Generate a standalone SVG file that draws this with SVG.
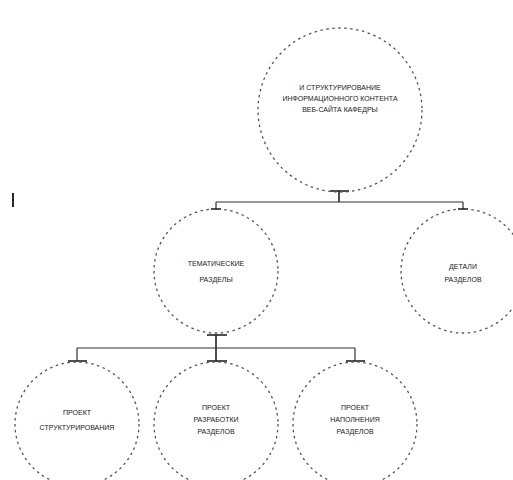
<svg xmlns="http://www.w3.org/2000/svg" width="513" height="480" viewBox="0 0 513 480">
  <style>
    .node { fill: none; stroke: #555; stroke-width: 1.3; stroke-dasharray: 2.5 3.5; }
    .lbl { font-family: "Liberation Sans", Arial, sans-serif; font-size: 7px; fill: #1a1a1a; text-anchor: middle; }
    .wire { stroke: #333; stroke-width: 1.2; fill: none; }
    .bar { stroke: #222; stroke-width: 1.6; fill: none; }
  </style>
  <rect width="513" height="480" fill="#fff"/>

  <!-- cursor mark -->
  <line x1="13" y1="193" x2="13" y2="207" stroke="#111" stroke-width="1.8"/>

  <g id="connectors">
    <!-- root to level 1 -->
    <line class="bar" x1="330" y1="191" x2="349" y2="191"/>
    <line class="bar" x1="339" y1="191" x2="339" y2="202"/>
    <line class="wire" x1="216" y1="202" x2="463" y2="202"/>
    <line class="wire" x1="216" y1="202" x2="216" y2="209"/>
    <line class="bar" x1="211" y1="209" x2="221" y2="209"/>
    <line class="wire" x1="463" y1="202" x2="463" y2="209"/>
    <line class="bar" x1="458" y1="209" x2="468" y2="209"/>
    <!-- level 1 to level 2 -->
    <line class="bar" x1="207" y1="335" x2="227" y2="335"/>
    <line class="bar" x1="216" y1="335" x2="216" y2="361"/>
    <line class="bar" x1="207" y1="361" x2="227" y2="361"/>
    <line class="wire" x1="77" y1="348" x2="355" y2="348"/>
    <line class="wire" x1="77" y1="348" x2="77" y2="361"/>
    <line class="bar" x1="68" y1="361" x2="87" y2="361"/>
    <line class="wire" x1="355" y1="348" x2="355" y2="361"/>
    <line class="bar" x1="346" y1="361" x2="365" y2="361"/>
  </g>

  <g id="root">
    <circle class="node" cx="340" cy="110" r="82"/>
    <text class="lbl" x="340" y="90">И СТРУКТУРИРОВАНИЕ</text>
    <text class="lbl" x="340" y="101">ИНФОРМАЦИОННОГО КОНТЕНТА</text>
    <text class="lbl" x="340" y="112">ВЕБ-САЙТА КАФЕДРЫ</text>
  </g>

  <g id="topics">
    <circle class="node" cx="216" cy="271" r="62"/>
    <text class="lbl" x="216" y="266">ТЕМАТИЧЕСКИЕ</text>
    <text class="lbl" x="216" y="282">РАЗДЕЛЫ</text>
  </g>

  <g id="details">
    <circle class="node" cx="463" cy="271" r="62"/>
    <text class="lbl" x="463" y="269">ДЕТАЛИ</text>
    <text class="lbl" x="463" y="282">РАЗДЕЛОВ</text>
  </g>

  <g id="project-structure">
    <circle class="node" cx="77" cy="424" r="62"/>
    <text class="lbl" x="77" y="415">ПРОЕКТ</text>
    <text class="lbl" x="77" y="430">СТРУКТУРИРОВАНИЯ</text>
  </g>

  <g id="project-development">
    <circle class="node" cx="216" cy="424" r="62"/>
    <text class="lbl" x="216" y="410">ПРОЕКТ</text>
    <text class="lbl" x="216" y="422">РАЗРАБОТКИ</text>
    <text class="lbl" x="216" y="434">РАЗДЕЛОВ</text>
  </g>

  <g id="project-filling">
    <circle class="node" cx="355" cy="424" r="62"/>
    <text class="lbl" x="355" y="410">ПРОЕКТ</text>
    <text class="lbl" x="355" y="422">НАПОЛНЕНИЯ</text>
    <text class="lbl" x="355" y="434">РАЗДЕЛОВ</text>
  </g>
</svg>
